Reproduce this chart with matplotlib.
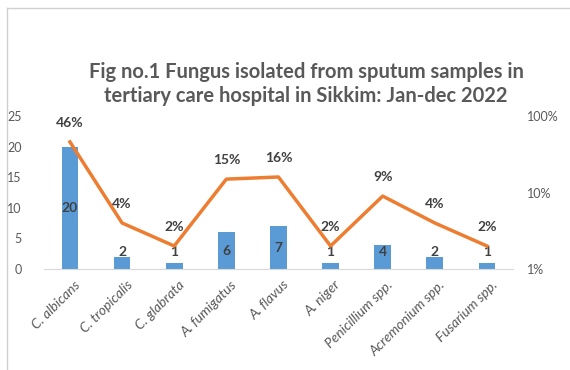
import numpy as np
import matplotlib.pyplot as plt
import matplotlib.transforms as mtransforms
from matplotlib.lines import Line2D

plt.rcParams['font.family'] = ['Lato', 'DejaVu Sans']

species = ['C. albicans', 'C. tropicalis', 'C. glabrata', 'A. fumigatus', 'A. flavus',
           'A. niger', 'Penicillium spp.', 'Acremonium spp.', 'Fusarium spp.']
counts = [20, 2, 1, 6, 7, 1, 4, 2, 1]
percents = [46, 4, 2, 15, 16, 2, 9, 4, 2]

bar_col = '#5B9BD5'
line_col = '#ED7D31'
txt_col = '#404040'
tick_col = '#595959'

fig = plt.figure(figsize=(5.7, 3.7), dpi=100)
ax = fig.add_axes([0.077, 0.273, 0.823, 0.413])
x = np.arange(len(species))

ax.bar(x, counts, width=0.32, color=bar_col, zorder=2)
for xi, c in zip(x, counts):
    ax.text(xi, max(c / 2, 2.8), str(c), ha='center', va='center',
            fontsize=10, fontweight='bold', color=txt_col, zorder=5)

ax.set_xlim(-0.5, len(species) - 0.5)
ax.set_ylim(0, 25)
ax.set_yticks([0, 5, 10, 15, 20, 25])
ax.set_xticks(x)
ax.set_xticklabels(species, rotation=45, ha='right', rotation_mode='anchor',
                   fontsize=10, style='italic', color=tick_col)
ax.tick_params(axis='both', length=0, labelsize=9, labelcolor=tick_col)
ax.tick_params(axis='x', labelsize=10, pad=7)
ax.tick_params(axis='y', pad=16)
shift = mtransforms.ScaledTranslation(4 / 100, 0, fig.dpi_scale_trans)
for lab in ax.get_xticklabels():
    lab.set_transform(lab.get_transform() + shift)
for s in ['top', 'right', 'left']:
    ax.spines[s].set_visible(False)
ax.spines['bottom'].set_color('#D9D9D9')

ax2 = ax.twinx()
ax2.plot(x, percents, color=line_col, lw=2.5, zorder=3)
ax2.set_yscale('log')
ax2.set_ylim(1, 100)
ax2.set_yticks([1, 10, 100])
ax2.set_yticklabels(['1%', '10%', '100%'])
ax2.minorticks_off()
ax2.tick_params(axis='y', length=0, labelsize=9, labelcolor=tick_col, pad=10)
for s in ['top', 'right', 'left', 'bottom']:
    ax2.spines[s].set_visible(False)
for xi, p in zip(x, percents):
    ax2.annotate(f'{p}%', (xi, p), xytext=(0, 14), textcoords='offset points',
                 ha='center', va='center', fontsize=10, fontweight='bold',
                 color=txt_col)

fig.text(0.537, 0.774, 'Fig no.1 Fungus isolated from sputum samples in\n'
         'tertiary care hospital in Sikkim: Jan-dec 2022',
         ha='center', va='center', fontsize=14.5, fontweight='bold',
         color=tick_col, linespacing=1.25)

# chart frame (only top and left edges are visible)
fig.add_artist(Line2D([0.013, 0.013], [0.0, 0.978], color='#D0D0D0', lw=1))
fig.add_artist(Line2D([0.013, 1.0], [0.978, 0.978], color='#D0D0D0', lw=1))

fig.savefig('out.png', dpi=100)
